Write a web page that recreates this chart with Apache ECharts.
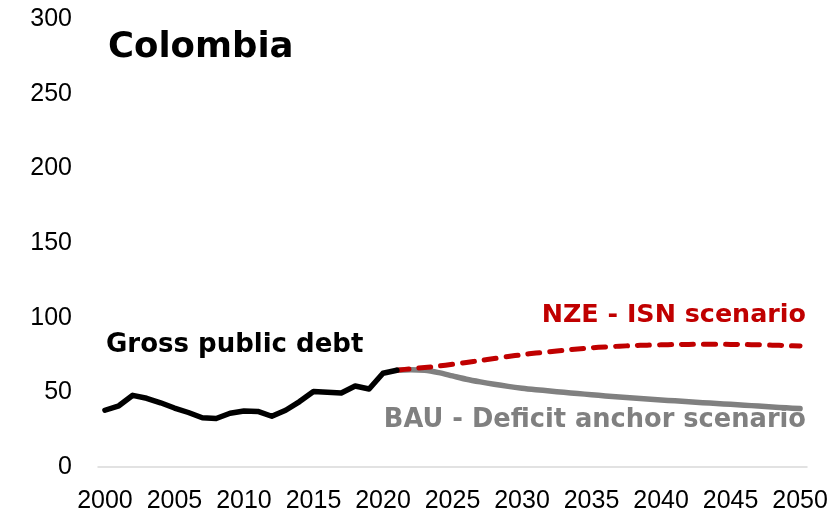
<!DOCTYPE html>
<html>
<head>
<meta charset="utf-8">
<script src="https://cdn.jsdelivr.net/npm/echarts@6/dist/echarts.min.js"></script>
<style>
  html, body { margin: 0; padding: 0; background: #fff; }
  #chart { width: 832px; height: 515px; }
</style>
</head>
<body>
<div id="chart"></div>
<script>
// Colombia: gross public debt (% of GDP), history and two scenarios to 2050
const years = [];
for (let y = 2000; y <= 2050; y++) years.push(String(y));

const grossDebt = [38, 41, 48, 46, 43, 39.5, 36.5, 33, 32.5, 36, 37.5, 37.2, 34, 38, 43.8,
  50.6, 50.1, 49.6, 54.2, 52.2, 62.8, 64.8];

const nzeIsn = [64.8, 65.8, 66.6, 67.6, 68.8, 70, 71.3, 72.6, 74, 75.2,
  76.3, 77.2, 78.2, 79, 79.8, 80.4, 80.9, 81.3, 81.6, 81.8,
  82, 82.1, 82.2, 82.2, 82.1, 82, 81.8, 81.6, 81.3, 81];

const bauDeficit = [64.8, 65.2, 64.8, 63.2, 61, 58.8, 57, 55.4, 54, 52.8,
  51.8, 50.9, 50, 49.2, 48.4, 47.6, 46.9, 46.2, 45.5, 44.9,
  44.3, 43.7, 43.1, 42.5, 42, 41.4, 40.8, 40.2, 39.6, 39.1];

const yTicks = [0, 50, 100, 150, 200, 250, 300];

const histStart = 0;
const projStart = years.indexOf('2021');
const pad = (arr, start) => years.map((_, i) => (i >= start && i - start < arr.length) ? arr[i - start] : null);

const chart = echarts.init(document.getElementById('chart'));
const labelFont = '"DejaVu Sans", sans-serif';
const tickFont = '"Liberation Sans", Arial, sans-serif';

chart.setOption({
  animation: false,
  backgroundColor: '#ffffff',
  grid: { left: 98, right: 25, top: 19, bottom: 48 },
  xAxis: {
    type: 'category',
    data: years,
    boundaryGap: true,
    axisLine: { lineStyle: { color: '#d9d9d9', width: 1.5 } },
    axisTick: { show: false },
    axisLabel: {
      interval: (i, v) => Number(v) % 5 === 0,
      color: '#000', fontSize: 25, fontFamily: tickFont, margin: 22
    },
    splitLine: { show: false }
  },
  yAxis: {
    type: 'value',
    min: yTicks[0], max: yTicks[yTicks.length - 1], interval: 50,
    axisLine: { show: false },
    axisTick: { show: false },
    splitLine: { show: false },
    axisLabel: { color: '#000', fontSize: 25, fontFamily: tickFont, margin: 26 }
  },
  series: [
    {
      name: 'BAU - Deficit anchor scenario', type: 'line',
      data: pad(bauDeficit, projStart), smooth: 0.3,
      symbol: 'none', lineStyle: { color: '#808080', width: 5.5, cap: 'round', join: 'round' }, z: 2
    },
    {
      name: 'NZE - ISN scenario', type: 'line',
      data: pad(nzeIsn, projStart), smooth: 0.3,
      symbol: 'none', lineStyle: { color: '#c00000', width: 5, type: [12, 10], cap: 'round', join: 'round' }, z: 3
    },
    {
      name: 'Gross public debt', type: 'line',
      data: pad(grossDebt, histStart),
      symbol: 'none', lineStyle: { color: '#000000', width: 5.5, cap: 'round', join: 'round' }, z: 4
    }
  ],
  graphic: [
    { type: 'text', x: 108, y: 48,
      style: { text: 'Colombia', fill: '#000', font: 'bold 35.5px ' + labelFont, align: 'left', verticalAlign: 'middle' } },
    { type: 'text', x: 106, y: 345,
      style: { text: 'Gross public debt', fill: '#000', font: 'bold 26px ' + labelFont, align: 'left', verticalAlign: 'middle' } },
    { type: 'text', x: 806, y: 315,
      style: { text: 'NZE - ISN scenario', fill: '#c00000', font: 'bold 25.4px ' + labelFont, align: 'right', verticalAlign: 'middle' } },
    { type: 'text', x: 806, y: 420,
      style: { text: 'BAU - Deficit anchor scenario', fill: '#808080', font: 'bold 25.7px ' + labelFont, align: 'right', verticalAlign: 'middle' } }
  ]
});
</script>
</body>
</html>
